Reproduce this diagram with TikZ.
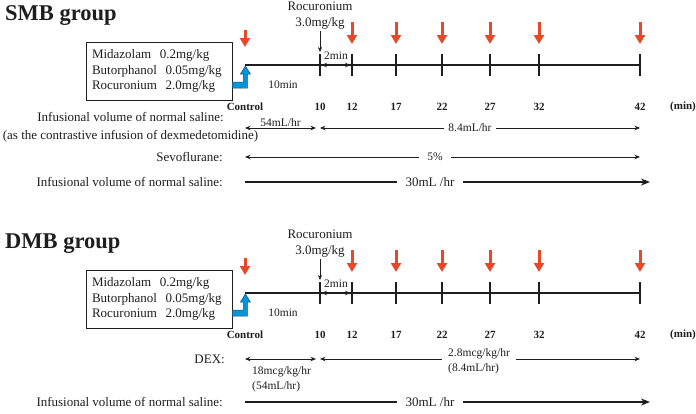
\documentclass[tikz,border=0pt]{standalone}
\usepackage{fontspec}
\setmainfont{Liberation Serif}
\usetikzlibrary{arrows.meta,calc}
\definecolor{redarr}{RGB}{232,72,40}
\definecolor{bluearr}{RGB}{0,150,214}
\definecolor{bluedark}{RGB}{20,80,130}
\definecolor{ink}{RGB}{30,30,30}
\tikzset{
  txt/.style={font=\fontsize{13}{16}\selectfont, inner sep=0pt, text=ink},
  small/.style={font=\fontsize{11.5}{15}\selectfont, inner sep=0pt, text=ink},
  num/.style={font=\fontsize{11}{13}\selectfont\bfseries, inner sep=0pt, text=ink},
  titlefont/.style={font=\fontsize{22.5}{26}\selectfont\bfseries, inner sep=0pt, text=ink},
  drugbox/.style={draw=ink, line width=0.8pt, txt, align=left, text width=134pt,
    inner xsep=6pt, inner ysep=0pt, minimum height=58pt, font=\fontsize{13}{15.5}\selectfont},
  mainline/.style={line width=2pt, ink},
  tickline/.style={line width=2.8pt, ink},
  meas/.style={line width=0.8pt, ink, {Stealth[length=5.5pt,width=4.5pt]}-{Stealth[length=5.5pt,width=4.5pt]}},
  thinarrow/.style={line width=0.6pt, ink, -{Stealth[length=5pt,width=4pt]}},
  thickarr/.style={line width=1.8pt, ink, -{Stealth[length=9pt,width=7pt]}},
  redarrow/.style={line width=3pt, redarr, -{Triangle[length=9pt,width=10pt]}},
  bluefill/.style={fill=bluearr, draw=bluedark, line width=0.5pt},
  gaplabel/.style={fill=white, inner xsep=4pt, inner ysep=1pt}
}
\newcommand{\grouppart}[2]{%
  \node[titlefont, anchor=base west] (#2title) at (5,20) {#1};
  \node[drugbox] (#2box) at (159,71) {Midazolam\ \ 0.2mg/kg\\Butorphanol\ \ 0.05mg/kg\\Rocuronium\ \ 2.0mg/kg};
  \coordinate (#2t0) at (245,65);
  \coordinate (#2t10) at (320,65);
  \coordinate (#2t12) at (352,65);
  \coordinate (#2t17) at (396,65);
  \coordinate (#2t22) at (442,65);
  \coordinate (#2t27) at (490,65);
  \coordinate (#2t32) at (539,65);
  \coordinate (#2t42) at (640,65);
  \draw[mainline] (#2t0) -- (#2t42);
  \foreach \t in {10,12,17,22,27,32,42}
    \draw[tickline] ($(#2t\t)+(0,-11)$) -- ($(#2t\t)+(0,11)$);
  \foreach \t in {12,17,22,27,32,42}
    \draw[redarrow] ($(#2t\t)+(0,-43)$) -- ($(#2t\t)+(0,-21)$);
  \draw[redarrow] ($(#2t0)+(0,-35)$) -- ($(#2t0)+(0,-18)$);
  \filldraw[bluefill] (#2box.east |- 0,82) -- ++(11,0) -- ++(0,-8) -- ++(-3,0) -- ++(5,-8)
     -- ++(5,8) -- ++(-3,0) -- ++(0,14) -- (#2box.east |- 0,88) -- cycle;
  \node[txt, align=center] (#2roc) at (320,16) {Rocuronium\\3.0mg/kg};
  \draw[thinarrow, shorten <=1pt] (#2roc.south) -- ($(#2t10)+(0,-13)$);
  \draw[meas, shorten <=1.5pt, shorten >=1.5pt] (#2t10) -- (#2t12);
  \node[small] (#2twomin) at ($(#2t10)!0.5!(#2t12)+(0,-9)$) {2min};
  \node[small] (#2tenmin) at (283,85) {10min};
  \node[num] (#2n0) at ($(#2t0)+(0,42)$) {Control};
  \node[num] (#2n10) at ($(#2t10)+(0,42)$) {10};
  \node[num] (#2n12) at ($(#2t12)+(0,42)$) {12};
  \node[num] (#2n17) at ($(#2t17)+(0,42)$) {17};
  \node[num] (#2n22) at ($(#2t22)+(0,42)$) {22};
  \node[num] (#2n27) at ($(#2t27)+(0,42)$) {27};
  \node[num] (#2n32) at ($(#2t32)+(0,42)$) {32};
  \node[num] (#2n42) at ($(#2t42)+(0,42)$) {42};
  \node[num] (#2nmin) at (683,107) {(min)};
}
\begin{document}
\begin{tikzpicture}[x=1pt,y=-1pt]
\useasboundingbox[fill=white] (0,0) rectangle (696,413);
% ---------------- SMB group
\begin{scope}
  \grouppart{SMB group}{s}
  \node[txt, align=center, font=\fontsize{13}{18}\selectfont] (slab1) at (130.5,127.5)
    {Infusional volume of normal saline:\\(as the contrastive infusion of dexmedetomidine)};
  \coordinate (sa0) at (245,128);
  \coordinate (sa1) at (316,128);
  \coordinate (sa2) at (320,128);
  \coordinate (sa3) at (640,128);
  \draw[meas] (sa0) -- (sa1);
  \node[small, anchor=south] (s54) at ($(sa0)!0.5!(sa1)+(0,-1.5)$) {54mL/hr};
  \draw[meas] (sa2) -- (sa3);
  \node[small, gaplabel] (s84) at (470,128) {8.4mL/hr};
  \node[txt, anchor=east] (ssevo) at (223,157) {Sevoflurane:};
  \coordinate (sb0) at (245,157);
  \coordinate (sb1) at (640,157);
  \draw[meas] (sb0) -- (sb1);
  \node[small, gaplabel, inner xsep=8pt] (s5) at (435,157) {5\%};
  \node[txt, anchor=east] (ssal) at (223,182) {Infusional volume of normal saline:};
  \coordinate (sc0) at (245,182);
  \coordinate (sc1) at (650,182);
  \draw[thickarr] (sc0) -- (sc1);
  \node[txt, gaplabel, inner xsep=9pt] (s30) at (430,182) {30mL /hr};
\end{scope}
% ---------------- DMB group
\begin{scope}[shift={(0,228)}]
  \grouppart{DMB group}{d}
  \node[txt, anchor=east] (ddex) at (225,131) {DEX:};
  \coordinate (da0) at (245,131);
  \coordinate (da1) at (316,131);
  \coordinate (da2) at (320,131);
  \coordinate (da3) at (640,131);
  \draw[meas] (da0) -- (da1);
  \node[small, align=left, anchor=west] (d18) at (252,151.5) {18mcg/kg/hr\\(54mL/hr)};
  \draw[meas] (da2) -- (da3);
  \node[small, gaplabel, align=left, anchor=west, inner xsep=6pt, inner ysep=0pt] (d28) at (442,133) {2.8mcg/kg/hr\\(8.4mL/hr)};
  \node[txt, anchor=east] (dsal) at (223,174) {Infusional volume of normal saline:};
  \coordinate (dc0) at (245,174);
  \coordinate (dc1) at (650,174);
  \draw[thickarr] (dc0) -- (dc1);
  \node[txt, gaplabel, inner xsep=9pt] (d30) at (430,174) {30mL /hr};
\end{scope}
\end{tikzpicture}
\end{document}
